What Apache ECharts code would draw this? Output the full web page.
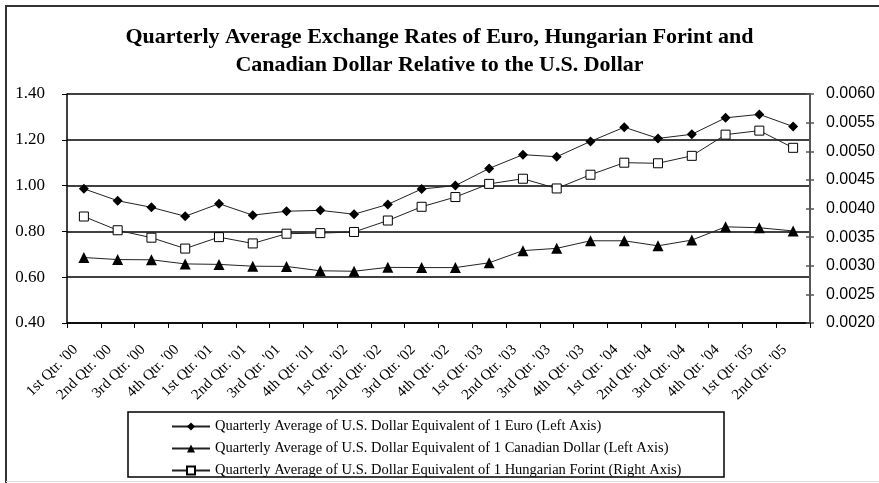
<!DOCTYPE html>
<html>
<head>
<meta charset="utf-8">
<script src="https://cdn.jsdelivr.net/npm/echarts@6/dist/echarts.min.js"></script>
<style>
html,body{margin:0;padding:0;background:#fff;}
#chart{width:879px;height:483px;}
</style>
</head>
<body>
<div id="chart"></div>
<script>
const categories = ["1st Qtr. '00","2nd Qtr. '00","3rd Qtr. '00","4th Qtr. '00",
  "1st Qtr. '01","2nd Qtr. '01","3rd Qtr. '01","4th Qtr. '01",
  "1st Qtr. '02","2nd Qtr. '02","3rd Qtr. '02","4th Qtr. '02",
  "1st Qtr. '03","2nd Qtr. '03","3rd Qtr. '03","4th Qtr. '03",
  "1st Qtr. '04","2nd Qtr. '04","3rd Qtr. '04","4th Qtr. '04",
  "1st Qtr. '05","2nd Qtr. '05"];
const euro = [0.986,0.934,0.905,0.866,0.921,0.871,0.888,0.892,0.875,0.918,0.985,1.000,
  1.075,1.135,1.126,1.193,1.255,1.206,1.224,1.296,1.311,1.258];
const cad = [0.686,0.677,0.676,0.658,0.656,0.648,0.647,0.628,0.626,0.643,0.642,0.642,
  0.663,0.716,0.726,0.759,0.759,0.737,0.762,0.820,0.816,0.802];
const huf = [0.00386,0.00362,0.00349,0.00330,0.00350,0.00339,0.00356,0.00357,0.00359,0.00379,0.00403,0.00420,
  0.00443,0.00452,0.00435,0.00459,0.00480,0.00479,0.00492,0.00529,0.00536,0.00506];
const seriesNames = [
  "Quarterly Average of U.S. Dollar Equivalent of 1 Euro (Left Axis)",
  "Quarterly Average of U.S. Dollar Equivalent of 1 Canadian Dollar (Left Axis)",
  "Quarterly Average of U.S. Dollar Equivalent of 1 Hungarian Forint (Right Axis)"
];
const titleText = "Quarterly Average Exchange Rates of Euro, Hungarian Forint and\nCanadian Dollar Relative to the U.S. Dollar";

const serif = "'Liberation Serif', 'DejaVu Serif', serif";
const sans = "'Liberation Sans', Arial, sans-serif";

const chart = echarts.init(document.getElementById('chart'), null, {renderer:'canvas'});
chart.setOption({
  animation: false,
  backgroundColor: '#fff',
  title: {
    text: titleText,
    left: 'center',
    top: 18,
    textStyle: {fontFamily: serif, fontWeight: 'bold', fontSize: 22, lineHeight: 28, color: '#000'}
  },
  graphic: [
    {type:'line', shape:{x1:5,y1:6,x2:879,y2:6}, style:{stroke:'#333', lineWidth:2}},
    {type:'line', shape:{x1:6,y1:6,x2:6,y2:483}, style:{stroke:'#333', lineWidth:2}},
    {type:'line', shape:{x1:6,y1:481.5,x2:879,y2:481.5}, style:{stroke:'#ddd', lineWidth:1}},
    {type:'rect', shape:{x:128,y:412,width:596,height:65}, style:{fill:'none', stroke:'#000', lineWidth:1.5}}
  ],
  legend: {
    orient: 'vertical',
    left: 166,
    top: 414,
    itemGap: 7,
    itemWidth: 38,
    itemHeight: 10,
    textStyle: {fontFamily: serif, fontSize: 14.5, lineHeight: 14, color: '#000'},
    data: seriesNames
  },
  grid: {left: 67, right: 69, top: 94, bottom: 160},
  xAxis: {
    type: 'category',
    data: categories,
    boundaryGap: true,
    axisLine: {lineStyle: {color: '#000', width: 1.5}},
    axisTick: {show: true, length: 5, lineStyle: {color: '#000', width: 1}},
    axisLabel: {rotate: 45, interval: 0, margin: 16, padding: [0, 12, 0, 0], fontFamily: serif, fontSize: 15, color: '#000'}
  },
  yAxis: [
    {
      type: 'value', position: 'left', min: 0.4, max: 1.4, interval: 0.2,
      axisLine: {show: true, lineStyle: {color: '#000', width: 1.5}},
      axisTick: {show: true, length: 5, lineStyle: {color: '#000'}},
      axisLabel: {margin: 22, fontFamily: serif, fontSize: 17, color: '#000', formatter: v => v.toFixed(2)},
      splitLine: {show: true, lineStyle: {color: '#000', width: 1.5}}
    },
    {
      type: 'value', position: 'right', min: 0.002, max: 0.006, interval: 0.0005,
      axisLine: {show: true, lineStyle: {color: '#555', width: 2}},
      axisTick: {show: true, length: 4, lineStyle: {color: '#555', width: 1.5}},
      axisLabel: {margin: 16, fontFamily: sans, fontSize: 16, color: '#000', formatter: v => v.toFixed(4)},
      splitLine: {show: false}
    },
    {
      type: 'value', position: 'right', min: 0.002, max: 0.006, interval: 0.0005,
      axisLine: {show: false},
      axisTick: {show: true, inside: true, length: 4, lineStyle: {color: '#555', width: 1.5}},
      axisLabel: {show: false},
      splitLine: {show: false}
    }
  ],
  series: [
    {
      name: seriesNames[0], type: 'line', yAxisIndex: 0, data: euro,
      symbol: 'diamond', symbolSize: 10,
      itemStyle: {color: '#000'}, lineStyle: {color: '#222', width: 1}
    },
    {
      name: seriesNames[1], type: 'line', yAxisIndex: 0, data: cad,
      symbol: 'triangle', symbolSize: 11,
      itemStyle: {color: '#000'}, lineStyle: {color: '#222', width: 1}
    },
    {
      name: seriesNames[2], type: 'line', yAxisIndex: 1, data: huf,
      symbol: 'rect', symbolSize: 9,
      itemStyle: {color: '#fff', borderColor: '#000', borderWidth: 1}, lineStyle: {color: '#222', width: 1}
    }
  ]
});
</script>
</body>
</html>
